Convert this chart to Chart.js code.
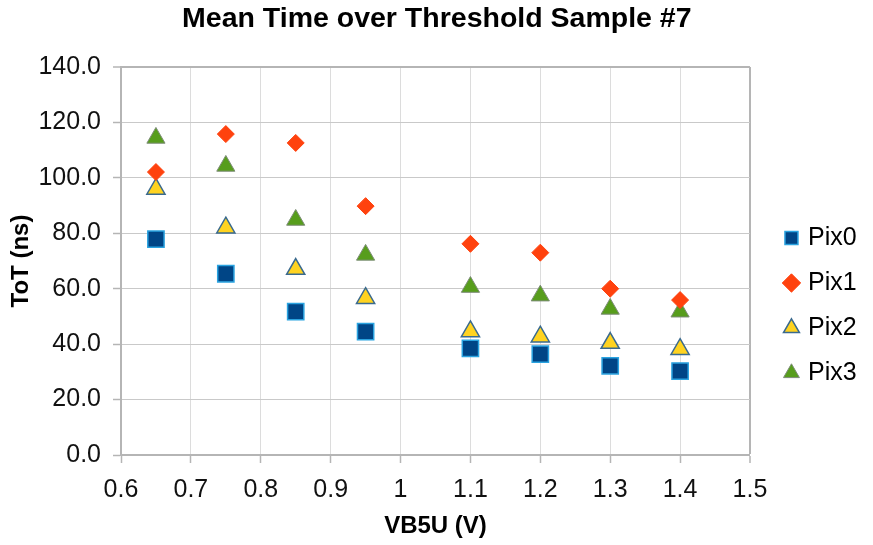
<!DOCTYPE html>
<html>
<head>
<meta charset="utf-8">
<title>Mean Time over Threshold Sample #7</title>
<script src="https://cdn.jsdelivr.net/npm/chart.js@4/dist/chart.umd.min.js"></script>
<style>
  html, body { margin: 0; padding: 0; background: #ffffff; }
  canvas { display: block; }
</style>
</head>
<body>
<canvas id="chart" width="873" height="545"></canvas>
<script>
// Bias voltage VB5U (V) and mean time-over-threshold (ns) per pixel
const vb5u = [0.65, 0.75, 0.85, 0.95, 1.1, 1.2, 1.3, 1.4];
const pix0 = [77.9, 65.4, 51.7, 44.5, 38.5, 36.4, 32.2, 30.3];
const pix1 = [102.1, 115.8, 112.6, 89.8, 76.2, 73.0, 60.0, 55.9];
const pix2 = [96.0, 82.0, 67.1, 56.6, 44.6, 42.7, 40.4, 38.2];
const pix3 = [114.4, 104.3, 84.8, 72.2, 60.6, 57.5, 52.7, 51.7];

const seriesNames = ['Pix0', 'Pix1', 'Pix2', 'Pix3'];
const xTickMin = 0.6, xTickMax = 1.5, xTickStep = 0.1;
const yTickMin = 0, yTickMax = 140, yTickStep = 20;

const FONT = "'Liberation Sans', Arial, sans-serif";
const GRID_X = '#dcdcdc';
const GRID_Y = '#c9c9c9';
const FRAME = '#b5b5b5';

const toPoints = ys => vb5u.map((x, i) => ({ x: x, y: ys[i] }));

const datasets = [
  { label: seriesNames[0], data: toPoints(pix0), pointStyle: 'rect',
    pointRadius: 11.5, pointHoverRadius: 11.5,
    backgroundColor: '#004586', borderColor: '#2aa3e0', borderWidth: 1.5 },
  { label: seriesNames[1], data: toPoints(pix1), pointStyle: 'rectRot',
    pointRadius: 8.5, pointHoverRadius: 8.5,
    backgroundColor: '#ff420e', borderColor: '#ff420e', borderWidth: 1 },
  { label: seriesNames[2], data: toPoints(pix2), pointStyle: 'triangle',
    pointRadius: 10.5, pointHoverRadius: 10.5,
    backgroundColor: '#ffd320', borderColor: '#3a6a8e', borderWidth: 1.5 },
  { label: seriesNames[3], data: toPoints(pix3), pointStyle: 'triangle',
    pointRadius: 10.5, pointHoverRadius: 10.5,
    backgroundColor: '#579d1c', borderColor: '#7d8c78', borderWidth: 1 }
];

const fmtX = v => String(parseFloat(Number(v).toFixed(1)));
const fmtY = v => Number(v).toFixed(1);

new Chart(document.getElementById('chart'), {
  type: 'scatter',
  data: { datasets: datasets },
  options: {
    responsive: false,
    devicePixelRatio: 1,
    animation: false,
    events: [],
    layout: { padding: { left: 7, right: 6.4, top: 0, bottom: 0 } },
    plugins: {
      title: {
        display: true,
        text: 'Mean Time over Threshold Sample #7',
        color: '#000000',
        font: { family: FONT, size: 28.5, weight: 'bold', lineHeight: 1.2 },
        padding: { top: 2, bottom: 30.8 }
      },
      legend: {
        display: true,
        position: 'right',
        align: 'center',
        title: { display: true, text: '', padding: { top: 18, bottom: 18 },
                 font: { family: FONT, size: 25, lineHeight: 1.2 } },
        labels: {
          usePointStyle: true,
          boxWidth: 8,
          boxHeight: 13,
          padding: 20,
          color: '#000000',
          font: { family: FONT, size: 25 }
        }
      },
      tooltip: { enabled: false }
    },
    scales: {
      x: {
        type: 'linear',
        position: 'bottom',
        min: xTickMin,
        max: xTickMax,
        afterFit: s => { s.height = 90; },
        ticks: {
          stepSize: xTickStep,
          callback: fmtX,
          color: '#111111',
          padding: 12,
          font: { family: FONT, size: 25 }
        },
        grid: {
          color: c => (c.tick && Math.abs(c.tick.value - xTickMax) < 1e-6) ? FRAME : GRID_X,
          lineWidth: c => (c.tick && Math.abs(c.tick.value - xTickMax) < 1e-6) ? 2 : 1,
          tickColor: FRAME,
          tickLength: 8,
          tickWidth: 1.5
        },
        border: { display: true, color: FRAME, width: 2 },
        title: {
          display: true,
          text: 'VB5U (V)',
          color: '#000000',
          font: { family: FONT, size: 24, weight: 'bold', lineHeight: 1.2 },
          padding: { top: 0, bottom: 3.8 }
        }
      },
      y: {
        type: 'linear',
        position: 'left',
        min: yTickMin,
        max: yTickMax,
        afterFit: s => { s.width = 114; },
        ticks: {
          stepSize: yTickStep,
          callback: fmtY,
          color: '#111111',
          padding: 12,
          font: { family: FONT, size: 25 }
        },
        grid: {
          color: c => (c.tick && c.tick.value === yTickMax) ? FRAME : GRID_Y,
          lineWidth: c => (c.tick && c.tick.value === yTickMax) ? 2 : 1,
          tickColor: FRAME,
          tickLength: 8,
          tickWidth: 1.5
        },
        border: { display: true, color: FRAME, width: 2 },
        title: {
          display: true,
          text: 'ToT (ns)',
          color: '#000000',
          font: { family: FONT, size: 24, weight: 'bold', lineHeight: 1.2 },
          padding: { top: 0, bottom: 0 }
        }
      },
      // empty gutter between the plot frame and the legend
      gutter: {
        type: 'linear',
        position: 'right',
        display: true,
        afterFit: s => { s.width = 17.5; },
        ticks: { display: false },
        grid: { display: false, drawTicks: false },
        border: { display: false }
      }
    }
  }
});
</script>
</body>
</html>
